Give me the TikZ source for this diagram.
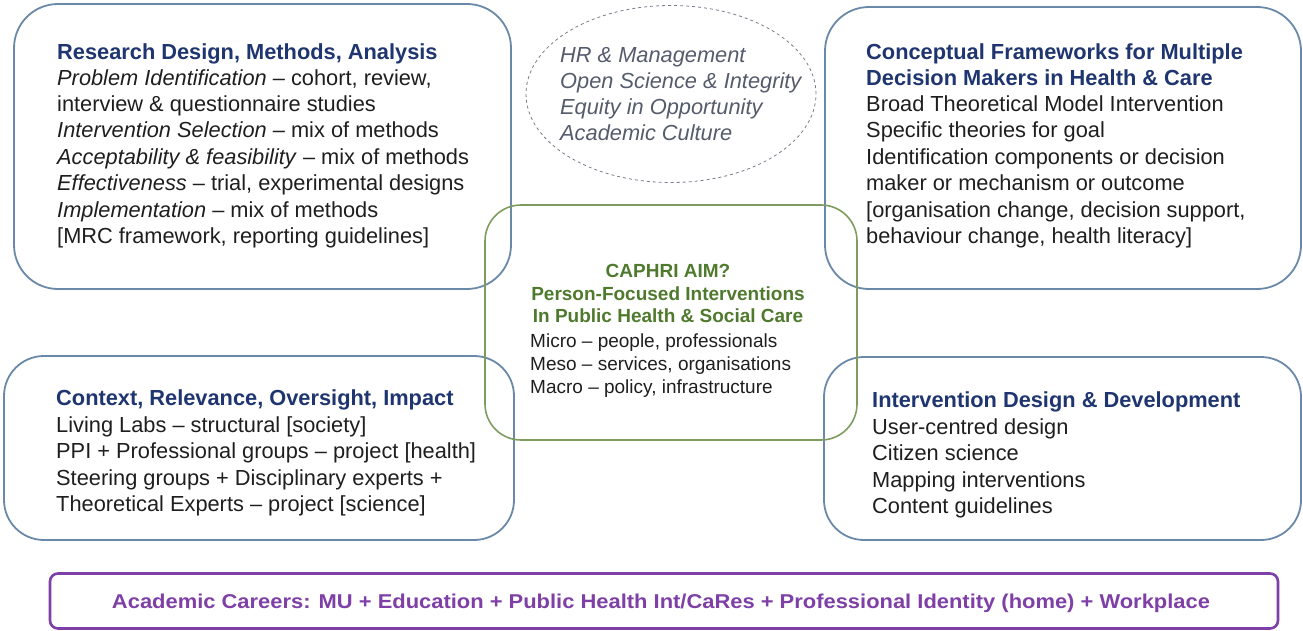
\documentclass[tikz,border=0pt]{standalone}
\usepackage{fontspec}
\setmainfont{Liberation Sans}
\usepackage{graphicx}
\usetikzlibrary{shapes.geometric}

\definecolor{framblue}{HTML}{6A89A8}
\definecolor{framgreen}{HTML}{7E9C5E}
\definecolor{navy}{HTML}{1F3570}
\definecolor{leafgreen}{HTML}{4F7A2E}
\definecolor{bodytext}{HTML}{1E1E1E}
\definecolor{mistext}{HTML}{545B6B}
\definecolor{careerpurple}{HTML}{7E3FA6}

\begin{document}
\begin{tikzpicture}[x=1pt,y=-1pt,
  bluebox/.style={draw=framblue,line width=1.8pt,rounded corners=44pt},
  greenbox/.style={draw=framgreen,line width=1.6pt,rounded corners=36pt},
  txt/.style={anchor=base west,inner sep=0pt,text=bodytext,
    font=\fontsize{21.8}{26}\selectfont},
  head/.style={txt,text=navy,font=\fontsize{21.8}{26}\selectfont\bfseries},
  mid/.style={anchor=base west,inner sep=0pt,text=bodytext,
    font=\fontsize{19}{23}\selectfont},
  midhead/.style={anchor=base,inner sep=0pt,text=leafgreen,
    font=\fontsize{19}{23}\selectfont\bfseries},
  misc/.style={anchor=base west,inner sep=0pt,text=mistext,
    font=\fontsize{21.8}{26}\selectfont\itshape}]

\useasboundingbox (0,0) rectangle (1303,631);

% four corner frames
\draw[bluebox] (14,4) rectangle (511,289);
\draw[bluebox] (825,7) rectangle (1301,289);
\draw[bluebox,rounded corners=40pt] (4,356) rectangle (514,540);
\draw[bluebox,rounded corners=40pt] (824,357) rectangle (1301,540);

% dashed ellipse of cross-cutting themes
\node[draw=mistext!80,dashed,line width=0.8pt,ellipse,minimum width=290pt,
  minimum height=177pt,inner sep=0pt] (themes) at (671,94) {};

% central aim frame
\draw[greenbox] (485,205) rectangle (857,440);

% bottom career bar
\node[draw=careerpurple,line width=2.6pt,rounded corners=8pt,
  minimum width=1228pt,minimum height=55pt,inner sep=0pt] (careers) at (664,601) {};

% Research design box
\node[head] (rd0) at (57,60) {Research Design, Methods, Analysis};
\node[txt] (rd1) at (57,86) {\textit{Problem Identification} – cohort, review,};
\node[txt] (rd2) at (57,112) {interview \& questionnaire studies};
\node[txt] (rd3) at (57,138) {\textit{Intervention Selection} – mix of methods};
\node[txt] (rd4) at (57,165) {\textit{Acceptability \& feasibility} – mix of methods};
\node[txt] (rd5) at (57,191) {\textit{Effectiveness} – trial, experimental designs};
\node[txt] (rd6) at (57,217) {\textit{Implementation} – mix of methods};
\node[txt] (rd7) at (57,243) {[MRC framework, reporting guidelines]};

% Conceptual frameworks box
\node[head] (cf0) at (866,60) {Conceptual Frameworks for Multiple};
\node[head] (cf1) at (866,86) {Decision Makers in Health \& Care};
\node[txt] (cf2) at (866,112) {Broad Theoretical Model Intervention};
\node[txt] (cf3) at (866,138) {Specific theories for goal};
\node[txt] (cf4) at (866,165) {Identification components or decision};
\node[txt] (cf5) at (866,191) {maker or mechanism or outcome};
\node[txt] (cf6) at (866,217) {[organisation change, decision support,};
\node[txt] (cf7) at (866,243) {behaviour change, health literacy]};

% Context box
\node[head] (cx0) at (56,405) {Context, Relevance, Oversight, Impact};
\node[txt] (cx1) at (56,432) {Living Labs – structural [society]};
\node[txt] (cx2) at (56,458) {PPI + Professional groups – project [health]};
\node[txt] (cx3) at (56,485) {Steering groups + Disciplinary experts +};
\node[txt] (cx4) at (56,511) {Theoretical Experts – project [science]};

% Intervention design box
\node[head] (id0) at (872,407) {Intervention Design \& Development};
\node[txt] (id1) at (872,434) {User-centred design};
\node[txt] (id2) at (872,460) {Citizen science};
\node[txt] (id3) at (872,487) {Mapping interventions};
\node[txt] (id4) at (872,513) {Content guidelines};

% themes inside the ellipse
\node[misc] (th0) at (560,63) {HR \& Management};
\node[misc] (th1) at (560,89) {Open Science \& Integrity};
\node[misc] (th2) at (560,115) {Equity in Opportunity};
\node[misc] (th3) at (560,141) {Academic Culture};

% central aim
\node[midhead] (am0) at (668,277) {CAPHRI AIM?};
\node[midhead] (am1) at (668,300) {Person-Focused Interventions};
\node[midhead] (am2) at (668,322) {In Public Health \& Social Care};
\node[mid] (am3) at (530,347) {Micro – people, professionals};
\node[mid] (am4) at (530,370) {Meso – services, organisations};
\node[mid] (am5) at (530,393) {Macro – policy, infrastructure};

% career line
\node[anchor=base,inner sep=0pt,text=careerpurple,
  font=\fontsize{20}{24}\selectfont\bfseries] (ac) at (661,608)
  {\resizebox{1098pt}{\height}{Academic Careers: MU + Education + Public Health Int/CaRes + Professional Identity (home) + Workplace}};
\end{tikzpicture}
\end{document}
